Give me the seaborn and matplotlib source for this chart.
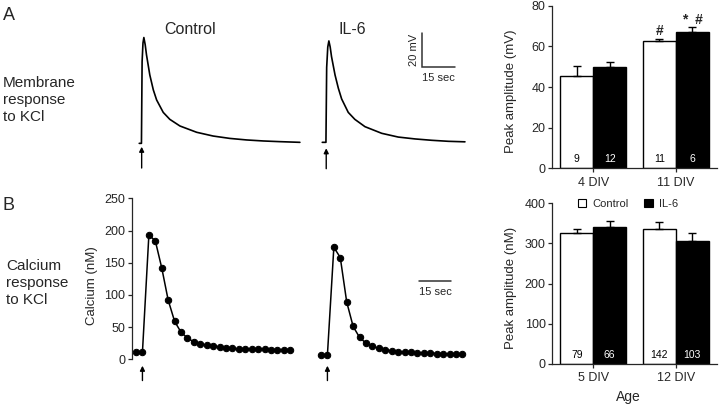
import numpy as np
import pandas as pd
import matplotlib
matplotlib.use("Agg")
import matplotlib.pyplot as plt
import matplotlib.transforms as mtransforms
from matplotlib.patches import Patch
import seaborn as sns

# ---------------- data ----------------
# A: membrane potential traces (sec, mV above baseline)
mem_t_control = [0, 1.0, 1.3, 1.7, 2.1, 2.7, 3.3, 4.8, 6.4, 7.9, 10.9, 13.9, 18.5, 26.1, 33.6, 41.2, 48.8, 56.4, 63.9, 73.0]
mem_v_control = [0, 0, 48, 59, 62.2, 58, 52, 40.2, 31.4, 25.5, 18.2, 14.1, 10.2, 6.5, 4.3, 2.9, 2.0, 1.4, 1.0, 0.6]
mem_t_il6 = [0, 1.67, 2.0, 2.5, 3.0, 3.6, 4.2, 5.8, 7.3, 8.8, 11.8, 14.8, 19.4, 27.0, 34.5, 42.1, 49.7, 57.3, 64.8]
mem_v_il6 = [0, 0, 44, 56, 59.6, 56, 50.4, 39.6, 31.8, 25.5, 17.6, 13.5, 9.2, 5.3, 3.1, 2.0, 1.2, 0.6, 0.3]

# B: calcium traces (sec, nM)
ca_t_control = [0, 3, 6, 9, 12, 15, 18, 21, 24, 27, 30, 33, 36, 39, 42, 45, 48, 51, 54, 57, 60, 63, 66, 69, 72]
ca_control = [11, 11, 193, 184, 142, 92, 59, 42, 33, 27, 24, 22, 21, 19, 18, 17, 16, 16, 16, 16, 16, 15, 15, 15, 15]
ca_t_il6 = [0, 3, 6, 9, 12, 15, 18, 21, 24, 27, 30, 33, 36, 39, 42, 45, 48, 51, 54, 57, 60, 63, 66]
ca_il6 = [7, 7, 174, 158, 89, 51, 34, 25, 20, 17, 15, 13, 12, 11, 11, 10, 10, 10, 9, 9, 8, 8, 8]

# bar charts
treatments = ["Control", "IL-6"]
ages_mem = ["4 DIV", "11 DIV"]
mem_control_mean = [45.5, 62.6]
mem_control_sem = [5.0, 1.2]
mem_il6_mean = [50.0, 67.3]
mem_il6_sem = [2.5, 2.1]
mem_n_control = [9, 11]
mem_n_il6 = [12, 6]
mem_sig_control = ["", "#"]
mem_sig_il6 = ["", "*  #"]

ages_ca = ["5 DIV", "12 DIV"]
ca_control_mean = [325, 337]
ca_control_sem = [10, 17]
ca_il6_mean = [342, 305]
ca_il6_sem = [15, 20]
ca_n_control = [79, 142]
ca_n_il6 = [66, 103]
ca_sig_control = ["", ""]
ca_sig_il6 = ["", ""]

# ---------------- style ----------------
sns.set_theme(style="ticks")
plt.rcParams["font.family"] = ["Liberation Sans", "DejaVu Sans"]
plt.rcParams["axes.linewidth"] = 0.9
plt.rcParams["xtick.major.width"] = 0.9
plt.rcParams["ytick.major.width"] = 0.9

W, H = 720, 407
fig = plt.figure(figsize=(W / 100, H / 100), dpi=100)


def px_axes(x0, x1, y0, y1):
    return fig.add_axes([x0 / W, 1 - y1 / H, (x1 - x0) / W, (y1 - y0) / H])


def ftext(x, y, s, **kw):
    fig.text(x / W, 1 - y / H, s, **kw)


arrow_kw = dict(arrowstyle="-|>", color="black", lw=1.0, mutation_scale=7, shrinkA=0, shrinkB=0)

# ---------------- A: membrane traces ----------------
ax_mc = px_axes(130, 310, 20, 175)
sns.lineplot(x=mem_t_control, y=mem_v_control, ax=ax_mc, color="black", linewidth=1.2,
             estimator=None, sort=False)
ax_mc.set_xlim(-4.2, 77.6)
ax_mc.set_ylim(-18.6, 72.5)
ax_mc.axis("off")
ax_mc.annotate("", xy=(1.1, -2.0), xytext=(1.1, -14.5), arrowprops=arrow_kw, annotation_clip=False)

ax_mi = px_axes(315, 470, 20, 175)
sns.lineplot(x=mem_t_il6, y=mem_v_il6, ax=ax_mi, color="black", linewidth=1.2,
             estimator=None, sort=False)
ax_mi.set_xlim(-3.3, 67.1)
ax_mi.set_ylim(-19.2, 71.9)
ax_mi.axis("off")
ax_mi.annotate("", xy=(1.8, -3.5), xytext=(1.8, -15.5), arrowprops=arrow_kw, annotation_clip=False)
# scale bar 20 mV / 15 sec
ax_mi.plot([45.3, 45.3, 60.3], [64.3, 44.3, 44.3], color="#333333", lw=1.1, clip_on=False,
           solid_joinstyle="miter")
ax_mi.text(41.7, 54.3, "20 mV", rotation=90, ha="center", va="center", fontsize=8)
ax_mi.text(52.8, 38.0, "15 sec", ha="center", va="center", fontsize=8)

# ---------------- B: calcium traces ----------------
ax_cc = px_axes(132, 300, 198.3, 359.3)
sns.lineplot(x=ca_t_control, y=ca_control, ax=ax_cc, color="black", linewidth=1.1,
             marker="o", markersize=4.6, markeredgecolor="black", estimator=None, sort=False,
             clip_on=False)
ax_cc.set_xlim(-1.87, 76.5)
ax_cc.set_ylim(0, 250)
ax_cc.set_yticks([0, 50, 100, 150, 200, 250])
ax_cc.set_xticks([])
sns.despine(ax=ax_cc, bottom=True)
ax_cc.tick_params(axis="y", length=3, pad=2, labelsize=9)
ax_cc.set_xlabel("")
ax_cc.set_ylabel("Calcium (nM)", fontsize=9.5)
ax_cc.yaxis.set_label_coords(-0.205, 0.46)
ax_cc.annotate("", xy=(3, -10), xytext=(3, -33), arrowprops=arrow_kw, annotation_clip=False)

ax_ci = px_axes(316, 466, 198.3, 359.3)
sns.lineplot(x=ca_t_il6, y=ca_il6, ax=ax_ci, color="black", linewidth=1.1,
             marker="o", markersize=4.6, markeredgecolor="black", estimator=None, sort=False,
             clip_on=False)
ax_ci.set_xlim(-2.33, 67.67)
ax_ci.set_ylim(0, 250)
ax_ci.axis("off")
ax_ci.annotate("", xy=(3, -10), xytext=(3, -33), arrowprops=arrow_kw, annotation_clip=False)
ax_ci.plot([45.7, 60.7], [121.6, 121.6], color="#333333", lw=1.1, clip_on=False)
ax_ci.text(53.2, 104.0, "15 sec", ha="center", va="center", fontsize=8)


# ---------------- bar charts ----------------
def bar_panel(ax, ages, c_mean, c_sem, i_mean, i_sem, c_n, i_n, c_sig, i_sig, ymax, yticks, ylabel):
    df = pd.DataFrame({
        "Age": ages + ages,
        "Treatment": [treatments[0]] * len(ages) + [treatments[1]] * len(ages),
        "Amp": c_mean + i_mean,
        "SEM": c_sem + i_sem,
        "n": c_n + i_n,
        "sig": c_sig + i_sig,
    })
    sns.barplot(data=df, x="Age", y="Amp", hue="Treatment", hue_order=treatments,
                palette={"Control": "white", "IL-6": "black"}, edgecolor="black",
                linewidth=1.0, errorbar=None, legend=False, width=0.8, saturation=1, ax=ax)
    trans = mtransforms.blended_transform_factory(ax.transData, ax.transAxes)
    bar_containers = list(ax.containers)
    for ci, container in enumerate(bar_containers):
        sub = df[df["Treatment"] == treatments[ci]].reset_index(drop=True)
        for bar, (_, row) in zip(container, sub.iterrows()):
            x = bar.get_x() + bar.get_width() / 2
            top = bar.get_height()
            ax.errorbar([x], [top], yerr=[[0], [row["SEM"]]], fmt="none", ecolor="black",
                        elinewidth=1.0, capsize=3, capthick=1.0)
            ax.text(x, 0.055, str(row["n"]), transform=trans, ha="center", va="center",
                    fontsize=7.5, color="black" if ci == 0 else "white")
            if row["sig"]:
                ax.text(x, top + row["SEM"] + ymax * 0.045, row["sig"], ha="center",
                        va="center", fontsize=10, fontweight="bold")
    ax.set_xlim(-0.5, 1.5)
    ax.set_ylim(0, ymax)
    ax.set_yticks(yticks)
    sns.despine(ax=ax)
    ax.tick_params(axis="y", length=3, pad=1.5, labelsize=9)
    ax.tick_params(axis="x", length=3, pad=3, labelsize=9)
    ax.set_xlabel("")
    ax.set_ylabel(ylabel, fontsize=9.5)
    ax.yaxis.set_label_coords(-0.215, 0.476)


ax_b1 = px_axes(552, 717, 5.7, 168.3)
bar_panel(ax_b1, ages_mem, mem_control_mean, mem_control_sem, mem_il6_mean, mem_il6_sem,
          mem_n_control, mem_n_il6, mem_sig_control, mem_sig_il6, 80, [0, 20, 40, 60, 80],
          "Peak amplitude (mV)")

ax_b2 = px_axes(552, 717, 203.3, 364)
bar_panel(ax_b2, ages_ca, ca_control_mean, ca_control_sem, ca_il6_mean, ca_il6_sem,
          ca_n_control, ca_n_il6, ca_sig_control, ca_sig_il6, 400, [0, 100, 200, 300, 400],
          "Peak amplitude (nM)")
ax_b2.set_xlabel("Age", fontsize=10)
ax_b2.xaxis.set_label_coords(0.46, -0.16)

handles = [Patch(facecolor="white", edgecolor="black", linewidth=0.8),
           Patch(facecolor="black", edgecolor="black", linewidth=0.8)]
fig.legend(handles, treatments, loc="center", bbox_to_anchor=(628 / W, 1 - 204 / H),
           ncol=2, frameon=False, fontsize=8, handlelength=0.75, handleheight=0.75,
           handletextpad=0.6, columnspacing=1.4, borderpad=0, borderaxespad=0)

# ---------------- panel texts ----------------
ftext(3, 15, "A", fontsize=13, va="center", ha="left")
ftext(3, 205, "B", fontsize=13, va="center", ha="left")
ftext(190, 29, "Control", fontsize=11.5, ha="center", va="center")
ftext(352, 29, "IL-6", fontsize=11.5, ha="center", va="center")
ftext(3, 100, "Membrane\nresponse\nto KCl", fontsize=11, ha="left", va="center", linespacing=1.25)
ftext(6, 283, "Calcium\nresponse\nto KCl", fontsize=11, ha="left", va="center", linespacing=1.25)

fig.savefig("out.png", dpi=100)
